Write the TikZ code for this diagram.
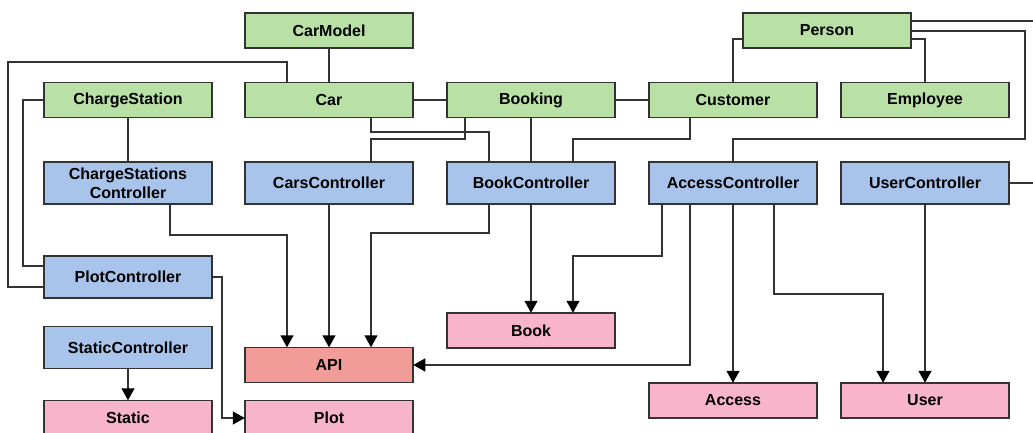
\documentclass[tikz,border=0pt]{standalone}
\usepackage{fontspec}
\setmainfont{Liberation Sans}
\usetikzlibrary{arrows.meta}
\definecolor{entgreen}{HTML}{B9E0A5}
\definecolor{ctrlblue}{HTML}{A9C4EB}
\definecolor{respink}{HTML}{F8B4CB}
\definecolor{apired}{HTML}{F19C99}
\definecolor{edge}{HTML}{333333}
\tikzset{
  box/.style={draw=edge, line width=1.5pt, minimum width=168pt, inner sep=0pt,
    font=\fontsize{16}{19}\selectfont\bfseries, text=black, align=center},
  entity/.style={box, fill=entgreen, minimum height=35pt},
  ctrl/.style={box, fill=ctrlblue, minimum height=42pt},
  res/.style={box, fill=respink, minimum height=35pt},
  api/.style={box, fill=apired, minimum height=35pt},
  link/.style={draw=edge, line width=1.5pt},
  flow/.style={link, -{Triangle[length=12pt,width=13pt,fill=black,color=black]}, shorten >=-0.5pt}
}
\begin{document}
\begin{tikzpicture}[x=1pt, y=-1pt]
\useasboundingbox[fill=white] (0,0) rectangle (1033,433);

% entities
\node[entity] (CarModel) at (329,30.5) {CarModel};
\node[entity] (Person) at (827,30.5) {Person};
\node[entity] (ChargeStation) at (128,100) {ChargeStation};
\node[entity] (Car) at (329,100) {Car};
\node[entity] (Booking) at (531,100) {Booking};
\node[entity] (Customer) at (733,100) {Customer};
\node[entity] (Employee) at (925,100) {Employee};

% controllers
\node[ctrl] (CSCtrl) at (128,183) {ChargeStations\\Controller};
\node[ctrl] (CarsCtrl) at (329,183) {CarsController};
\node[ctrl] (BookCtrl) at (531,183) {BookController};
\node[ctrl] (AccessCtrl) at (733,183) {AccessController};
\node[ctrl] (UserCtrl) at (925,183) {UserController};
\node[ctrl] (PlotCtrl) at (128,277) {PlotController};
\node[ctrl] (StaticCtrl) at (128,347.5) {StaticController};

% resources
\node[api] (API) at (329,365) {API};
\node[res] (Book) at (531,330.5) {Book};
\node[res] (Access) at (733,400.5) {Access};
\node[res] (User) at (925,400.5) {User};
\node[res] (Static) at (128,418) {Static};
\node[res] (Plot) at (329,418) {Plot};

% loose ends leaving the right side
\coordinate (outPerson) at (1045,21);
\coordinate (outUser) at (1045,183);

% entity relations
\draw[link] (CarModel.south) -- (Car.north);
\draw[link] (ChargeStation.south) -- (CSCtrl.north);
\draw[link] (Car.east) -- (Booking.west);
\draw[link] (Booking.east) -- (Customer.west);
\draw[link] (Booking.south) -- (BookCtrl.north);
\draw[link] ([xshift=-42pt]Car.north) |- (8,62) |- ([yshift=-10pt]PlotCtrl.west);
\draw[link] (ChargeStation.west) -| (23,200) |- ([yshift=11pt]PlotCtrl.west);
\draw[link] ([xshift=42pt]Car.south) |- (489,132) -- ([xshift=-42pt]BookCtrl.north);
\draw[link] ([xshift=-66pt]Booking.south) |- (371,139) -- ([xshift=42pt]CarsCtrl.north);
\draw[link] ([xshift=-43pt]Customer.south) |- (573,139) -- ([xshift=42pt]BookCtrl.north);
\draw[link] ([yshift=-8.5pt]Person.west) -| (Customer.north);
\draw[link] ([yshift=-8.5pt]Person.east) -| (Employee.north);
\draw[link] ([yshift=9.5pt]Person.east) -- (outPerson);
\draw[link] ([yshift=-0.5pt]Person.east) -| (1025,139) -| (AccessCtrl.north);
\draw[link] (UserCtrl.east) -- (outUser);

% controller outputs
\draw[flow] ([xshift=42pt]CSCtrl.south) |- (287,235) -- ([xshift=-42pt]API.north);
\draw[flow] (CarsCtrl.south) -- (API.north);
\draw[flow] ([xshift=-42pt]BookCtrl.south) |- (371,233) -- ([xshift=42pt]API.north);
\draw[flow] (BookCtrl.south) -- (Book.north);
\draw[flow] ([xshift=-71pt]AccessCtrl.south) |- (573,256) -- ([xshift=42pt]Book.north);
\draw[flow] ([xshift=-43pt]AccessCtrl.south) |- (API.east);
\draw[flow] (AccessCtrl.south) -- (Access.north);
\draw[flow] ([xshift=41pt]AccessCtrl.south) |- (883,294) -- ([xshift=-42pt]User.north);
\draw[flow] (UserCtrl.south) -- (User.north);
\draw[flow] (PlotCtrl.east) -| (222,300) |- (Plot.west);
\draw[flow] (StaticCtrl.south) -- (Static.north);
\end{tikzpicture}
\end{document}
